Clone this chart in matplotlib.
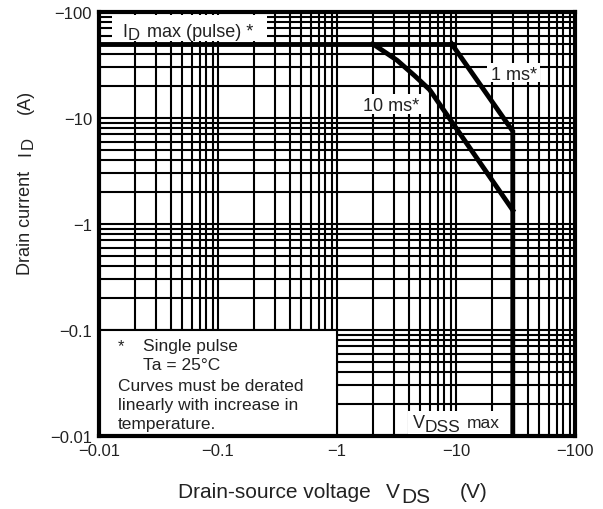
import matplotlib
matplotlib.use("Agg")
import matplotlib.pyplot as plt
from matplotlib.patches import Rectangle
from matplotlib.transforms import IdentityTransform

plt.rcParams['font.family'] = ['Liberation Sans', 'DejaVu Sans']

# Safe operating area (magnitudes, values are negative on the chart)
idmax_v = [0.01, 9.2]
idmax_i = [50, 50]

ms10_v = [2.0, 3.2, 4.5, 6.0, 30]
ms10_i = [50, 35, 25, 18.5, 1.35]

ms1_v = [9.2, 30, 30]
ms1_i = [50, 7.5, 0.01]

decades = [0.01, 0.1, 1, 10, 100]
tick_labels = ["\u22120.01", "\u22120.1", "\u22121", "\u221210", "\u2212100"]

W, H = 603, 510
tc = "#222222"

fig = plt.figure(figsize=(W / 100, H / 100), dpi=100)
ax = fig.add_axes([99 / W, (H - 437) / H, 476 / W, 424 / H])
ax.set_xscale("log")
ax.set_yscale("log")
ax.set_xlim(0.01, 100)
ax.set_ylim(0.01, 100)
ax.set_axisbelow(True)

ax.set_xticks(decades)
ax.set_xticklabels(tick_labels)
ax.set_yticks(decades)
ax.set_yticklabels(tick_labels)
ax.grid(True, which="both", color="black", lw=1.5)
ax.tick_params(which="both", length=0, labelsize=12, pad=5, labelcolor=tc)
for s in ax.spines.values():
    s.set_linewidth(3)

# note box in lower-left decade block
ax.add_patch(Rectangle((0.01, 0.01), 0.99, 0.09, facecolor="white",
                       edgecolor="black", lw=1.5, zorder=1))

ax.plot(idmax_v, idmax_i, color="black", lw=3.5, zorder=3)
ax.plot(ms10_v, ms10_i, color="black", lw=3.5, zorder=3, solid_joinstyle="miter")
ax.plot(ms1_v, ms1_i, color="black", lw=3.5, zorder=3, solid_joinstyle="miter")


def fx(px):
    return (px - 99) / 476


def fy(py):
    return (437 - py) / 424


def white_box(x0, y0, x1, y1):
    ax.add_patch(Rectangle((fx(x0), fy(y1)), fx(x1) - fx(x0), fy(y0) - fy(y1),
                           transform=ax.transAxes, facecolor="white",
                           edgecolor="none", zorder=2.6))


def ptext(x, y, s, size, **kw):
    # x, y in pixels from top-left, y is the baseline
    return fig.text(x, H - y, s, fontsize=size, transform=IdentityTransform(),
                    ha="left", va="baseline", color=tc, **kw)


def vtext(x, y, s, size):
    # rotated text, x is baseline, y is the start (bottom) of the text
    return fig.text(x, H - y, s, fontsize=size, transform=IdentityTransform(),
                    rotation=90, rotation_mode="anchor", ha="left", va="baseline", color=tc)


# curve labels
white_box(112, 16, 267, 42)
ptext(122, 37, "I", 13)
ptext(128, 40, "D", 12)
ptext(147, 37, "max (pulse) *", 13)

white_box(487, 64, 540, 83)
ptext(491, 80, "1 ms*", 13)

white_box(359, 95, 424, 115)
ptext(363, 111, "10 ms*", 13)

white_box(408, 412, 512, 435)
ptext(413, 428, "V", 13)
ptext(425, 432, "DSS", 12.5)
ptext(467, 428, "max", 12.5)

# notes
ptext(118, 351, "*", 12)
ptext(143, 351, "Single pulse", 12.5)
ptext(143, 370, "Ta = 25\u00b0C", 12.5)
ptext(118, 391, "Curves must be derated", 12.5)
ptext(118, 410, "linearly with increase in", 12.5)
ptext(118, 429, "temperature.", 12.5)

# axis titles
vtext(30, 156, "I", 13)
vtext(30, 275, "Drain current", 13)
vtext(33, 149, "D", 12)
vtext(30, 114, "(A)", 13)

ptext(178, 498, "Drain-source voltage", 15)
ptext(386, 498, "V", 15)
ptext(401, 503, "DS", 15)
ptext(460, 498, "(V)", 15)

fig.savefig("out.png", dpi=100)
